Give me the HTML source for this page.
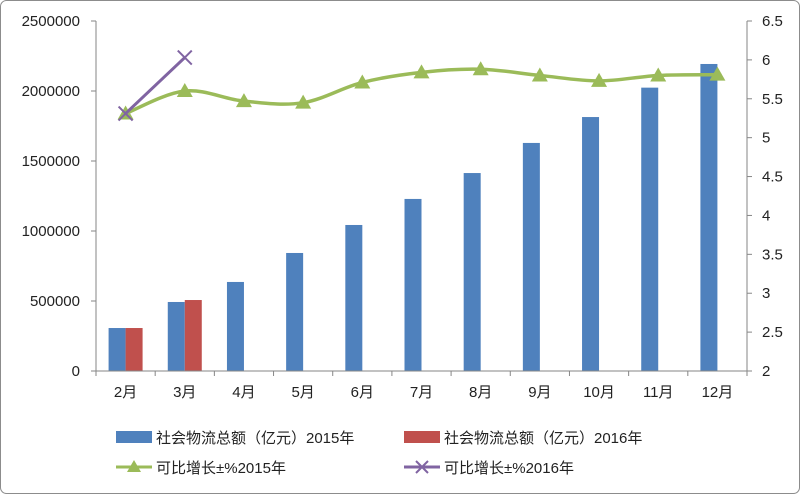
<!DOCTYPE html>
<html><head><meta charset="utf-8"><style>
html,body{margin:0;padding:0;background:#fff;}
svg{display:block;font-family:"Liberation Sans","Noto Sans CJK SC",sans-serif;}
</style></head><body>
<svg id="c" width="800" height="494">
<rect x="0.5" y="0.5" width="799" height="493" rx="6" fill="#fff" stroke="#8c8c8c"/>
<g id="grid"></g><g id="bars"></g><g id="lines"></g><g id="axes"></g><g id="legend"></g>
</svg>
<script>
const categories=["2月","3月","4月","5月","6月","7月","8月","9月","10月","11月","12月"];
const total2015=[307000,493000,636000,843000,1043000,1229000,1414000,1629000,1814000,2024000,2193000];
const total2016=[307000,507000];
const growth2015=[5.31,5.60,5.47,5.45,5.71,5.84,5.88,5.80,5.73,5.80,5.81];
const growth2016=[5.31,6.03];
const leftTicks=[0,500000,1000000,1500000,2000000,2500000];
const rightTicks=[2,2.5,3,3.5,4,4.5,5,5.5,6,6.5];
const NS="http://www.w3.org/2000/svg";
const X0=96,X1=747,Y0=371,Y1=21;
const cw=(X1-X0)/categories.length;
const xc=i=>X0+cw*(i+0.5);
const yL=v=>Y0-(v/2500000)*(Y0-Y1);
const yR=v=>Y0-((v-2)/4.5)*(Y0-Y1);
function mk(t,a,p){const e=document.createElementNS(NS,t);for(const k in a)e.setAttribute(k,a[k]);(p||document.getElementById('c')).appendChild(e);return e;}
const axes=document.getElementById('axes'),bars=document.getElementById('bars'),lines=document.getElementById('lines'),legend=document.getElementById('legend');
// axes
let a=mk('line',{x1:X0,y1:Y1,x2:X0,y2:Y0,stroke:'#868686'},axes);


a=mk('line',{x1:X1,y1:Y1,x2:X1,y2:Y0,stroke:'#868686'},axes);


a=mk('line',{x1:X0,y1:Y0,x2:X1,y2:Y0,stroke:'#868686'},axes);


leftTicks.forEach(v=>{const y=yL(v);mk('line',{x1:X0-5,y1:y,x2:X0,y2:y,stroke:'#868686'},axes);
const t=mk('text',{x:80,y:y+5,'text-anchor':'end','font-size':15,fill:'#222'},axes);t.textContent=v;

});
rightTicks.forEach(v=>{const y=yR(v);mk('line',{x1:X1,y1:y,x2:X1+5,y2:y,stroke:'#868686'},axes);
const t=mk('text',{x:762,y:y+5,'font-size':15,fill:'#222'},axes);t.textContent=v;

});
for(let i=0;i<=categories.length;i++){const x=X0+cw*i;mk('line',{x1:x,y1:Y0,x2:x,y2:Y0+5,stroke:'#868686'},axes);}
categories.forEach((c,i)=>{const t=mk('text',{x:xc(i),y:397,'text-anchor':'middle','font-size':15,fill:'#222'},axes);t.textContent=c;

});
// bars
const bw=17;
total2015.forEach((v,i)=>{const r=mk('rect',{x:xc(i)-bw,y:yL(v),width:bw,height:Y0-yL(v),fill:'#4f81bd'},bars);

});
total2016.forEach((v,i)=>{const r=mk('rect',{x:xc(i),y:yL(v),width:bw,height:Y0-yL(v),fill:'#c0504d'},bars);

});
// smooth line
function smooth(pts){let d=`M${pts[0][0]},${pts[0][1]}`;for(let i=0;i<pts.length-1;i++){const p0=pts[i-1]||pts[i],p1=pts[i],p2=pts[i+1],p3=pts[i+2]||p2;
const t=0.17;d+=` C${p1[0]+(p2[0]-p0[0])*t},${p1[1]+(p2[1]-p0[1])*t} ${p2[0]-(p3[0]-p1[0])*t},${p2[1]-(p3[1]-p1[1])*t} ${p2[0]},${p2[1]}`;}return d;}
const g15=growth2015.map((v,i)=>[xc(i),yR(v)]);
let l=mk('path',{d:smooth(g15),fill:'none',stroke:'#9bbb59','stroke-width':3.5},lines);


g15.forEach(p=>{const m=mk('polygon',{points:`${p[0]},${p[1]-8} ${p[0]-8},${p[1]+6} ${p[0]+8},${p[1]+6}`,fill:'#9bbb59'},lines);

});
const g16=growth2016.map((v,i)=>[xc(i),yR(v)]);
l=mk('path',{d:'M'+g16.map(p=>p.join(',')).join(' L'),fill:'none',stroke:'#8064a2','stroke-width':3},lines);


g16.forEach(p=>{const m=mk('path',{d:`M${p[0]-7},${p[1]-7} L${p[0]+7},${p[1]+7} M${p[0]-7},${p[1]+7} L${p[0]+7},${p[1]-7}`,stroke:'#8064a2','stroke-width':2},lines);

});
// legend
function leg(x,y,kind,color,label,name){const g=mk('g',{},legend);


if(kind==='bar')mk('rect',{x:x,y:y-6,width:36,height:12,fill:color},g);
else{mk('line',{x1:x,y1:y,x2:x+36,y2:y,stroke:color,'stroke-width':3},g);
if(kind==='tri')mk('polygon',{points:`${x+18},${y-7} ${x+11},${y+5} ${x+25},${y+5}`,fill:color},g);
else mk('path',{d:`M${x+12},${y-6} L${x+24},${y+6} M${x+12},${y+6} L${x+24},${y-6}`,stroke:color,'stroke-width':2},g);}
const t=mk('text',{x:x+40,y:y+6,'font-size':15,fill:'#222'},g);t.textContent=label;}
leg(116,437,'bar','#4f81bd','社会物流总额（亿元）2015年','legend-total-2015');
leg(404,437,'bar','#c0504d','社会物流总额（亿元）2016年','legend-total-2016');
leg(116,467,'tri','#9bbb59','可比增长±%2015年','legend-growth-2015');
leg(404,467,'x','#8064a2','可比增长±%2016年','legend-growth-2016');
</script>
</body></html>
